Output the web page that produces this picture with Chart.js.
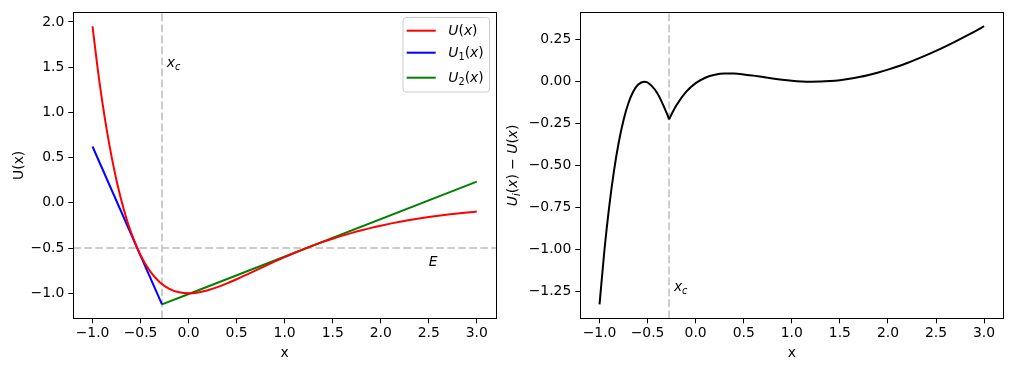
<!DOCTYPE html>
<html><head><meta charset="utf-8">
<script src="https://cdn.jsdelivr.net/npm/chart.js@4/dist/chart.umd.min.js"></script>
<style>
html,body{margin:0;padding:0;background:#fff;}
#wrap{position:relative;width:1012px;height:371px;background:#fff;}
canvas{position:absolute;top:0;}
#c1{left:0;} #c2{left:506px;}
</style></head><body>
<div id="wrap"><canvas id="c1" width="506" height="371"></canvas><canvas id="c2" width="506" height="371"></canvas></div>
<script>
// ---- data ----
const xU = [-1.0,-0.95,-0.9,-0.85,-0.8,-0.75,-0.7,-0.65,-0.6,-0.5,-0.4,-0.3,-0.2,-0.1,0.0,0.1,0.2,0.3,0.4,0.5,0.6,0.7,0.8,0.9,1.0,1.1,1.2,1.3,1.4,1.5,1.6,1.7,1.8,1.9,2.0,2.1,2.2,2.3,2.4,2.5,2.6,2.7,2.8,2.9,3.0];
const yU = [1.9525,1.5145,1.1304,0.7947,0.5020,0.2477,0.0277,-0.1618,-0.3241,-0.5792,-0.7581,-0.8776,-0.9510,-0.9889,-1.0,-0.9909,-0.9671,-0.9328,-0.8913,-0.8452,-0.7964,-0.7466,-0.6968,-0.6478,-0.6004,-0.5549,-0.5117,-0.4708,-0.4324,-0.3965,-0.3630,-0.3320,-0.3033,-0.2768,-0.2524,-0.2299,-0.2093,-0.1905,-0.1732,-0.1574,-0.1430,-0.1299,-0.1179,-0.1070,-0.0971];
const xU1 = [-1.0, -0.2766];
const yU1 = [0.6231, -1.1232];
const xU2 = [-0.2766, 3.0];
const yU2 = [-1.1232, 0.2340];
const xDiffA = [-1.0,-0.95,-0.9,-0.85,-0.8,-0.75,-0.7,-0.65,-0.6,-0.5348,-0.5,-0.4,-0.3,-0.2766];
const yDiffA = [-1.3294,-1.0121,-0.7488,-0.5337,-0.3617,-0.2282,-0.1289,-0.0601,-0.0185,0.0,-0.0049,-0.0673,-0.1893,-0.2248];
const xDiffB = [-0.2766,-0.25,-0.2,-0.1,0.0,0.1,0.2,0.3,0.4,0.5,0.6,0.7,0.8,0.9,1.0,1.1,1.2,1.3,1.4,1.5,1.6,1.7,1.8,1.9,2.0,2.1,2.2,2.3,2.4,2.5,2.6,2.7,2.8,2.9,3.0];
const yDiffB = [-0.2248,-0.1929,-0.1405,-0.0611,-0.0086,0.0237,0.0414,0.0485,0.0484,0.0437,0.0363,0.0279,0.0195,0.0120,0.0060,0.0019,0.0001,0.0006,0.0037,0.0092,0.0171,0.0275,0.0402,0.0551,0.0722,0.0911,0.1120,0.1345,0.1587,0.1843,0.2114,0.2397,0.2691,0.2996,0.3311];
const xC = -0.2766;
const E = -0.5;
const xTicks = [-1.0,-0.5,0.0,0.5,1.0,1.5,2.0,2.5,3.0];
const yTicksLeft = [-1.0,-0.5,0.0,0.5,1.0,1.5,2.0];
const yTicksRight = [-1.25,-1.0,-0.75,-0.5,-0.25,0.0,0.25];
const legendLabels = [["U","(x)",""],["U","(x)","1"],["U","(x)","2"]];

// ---- helpers ----
const FAM = "'DejaVu Sans'";
const FS = 13.9;
const pts = (xs, ys) => xs.map((x, i) => ({x: x, y: ys[i]}));
const fmt = (v, d) => v.toFixed(d).replace('-', '\u2212');

// parts: [text, style] style: 'i' italic, 'r' roman, 'si' sub italic, 'sr' sub roman
function mathWidth(ctx, parts, size) {
  let w = 0;
  for (const [t, s] of parts) {
    const sub = s[0] === 's';
    const it = s[s.length - 1] === 'i';
    ctx.font = (it ? 'italic ' : '') + (sub ? size * 0.7 : size) + 'px ' + FAM;
    w += ctx.measureText(t).width;
  }
  return w;
}
function drawMath(ctx, parts, x, y, size, align) {
  ctx.save();
  ctx.textBaseline = 'alphabetic';
  ctx.textAlign = 'left';
  let cx = x;
  if (align === 'center') cx = x - mathWidth(ctx, parts, size) / 2;
  for (const [t, s] of parts) {
    const sub = s[0] === 's';
    const it = s[s.length - 1] === 'i';
    ctx.font = (it ? 'italic ' : '') + (sub ? size * 0.7 : size) + 'px ' + FAM;
    ctx.fillText(t, cx, y + (sub ? size * 0.22 : 0));
    cx += ctx.measureText(t).width;
  }
  ctx.restore();
}

function makeOverlay(cfg) {
  return {
    id: 'overlay',
    beforeDatasetsDraw(chart) {
      const ctx = chart.ctx, a = chart.chartArea;
      const xs = chart.scales.x, ys = chart.scales.y;
      ctx.save();
      ctx.strokeStyle = '#cccccc';
      ctx.lineWidth = 2;
      ctx.setLineDash([7.7, 3.3]);
      const px = xs.getPixelForValue(xC);
      ctx.beginPath(); ctx.moveTo(px, a.bottom); ctx.lineTo(px, a.top); ctx.stroke();
      if (cfg.hline !== undefined) {
        const py = ys.getPixelForValue(cfg.hline);
        ctx.beginPath(); ctx.moveTo(a.left, py); ctx.lineTo(a.right, py); ctx.stroke();
      }
      ctx.restore();
      ctx.fillStyle = '#000';
      for (const tx of cfg.texts) {
        drawMath(ctx, tx.parts, xs.getPixelForValue(tx.x), ys.getPixelForValue(tx.y), FS, 'left');
      }
    },
    afterDraw(chart) {
      const ctx = chart.ctx, a = chart.chartArea;
      ctx.save();
      ctx.strokeStyle = '#000';
      ctx.lineWidth = 1;
      ctx.setLineDash([]);
      ctx.strokeRect(Math.round(a.left) + 0.5, Math.round(a.top) + 0.5, Math.round(a.right) - Math.round(a.left), Math.round(a.bottom) - Math.round(a.top));
      ctx.restore();
      // axis labels
      ctx.save();
      ctx.fillStyle = '#000';
      ctx.font = FS + 'px ' + FAM;
      ctx.textAlign = 'center';
      ctx.textBaseline = 'alphabetic';
      ctx.fillText('x', (a.left + a.right) / 2, 356.5);
      ctx.translate(cfg.ylabelX, (a.top + a.bottom) / 2);
      ctx.rotate(-Math.PI / 2);
      if (cfg.ylabelPlain) {
        ctx.fillText(cfg.ylabelPlain, 0, 0);
      } else {
        drawMath(ctx, cfg.ylabelMath, 0, 0, FS, 'center');
      }
      ctx.restore();
      // legend
      if (cfg.legend) {
        const L = cfg.legend;
        ctx.save();
        ctx.fillStyle = 'rgba(255,255,255,0.8)';
        ctx.strokeStyle = '#cccccc';
        ctx.lineWidth = 1;
        ctx.beginPath();
        if (ctx.roundRect) ctx.roundRect(L.x + 0.5, L.y + 0.5, L.w, L.h, 3); else ctx.rect(L.x + 0.5, L.y + 0.5, L.w, L.h);
        ctx.fill(); ctx.stroke();
        chart.data.datasets.forEach((ds, i) => {
          const ly = L.rows[i];
          ctx.strokeStyle = ds.borderColor;
          ctx.lineWidth = 2;
          ctx.beginPath(); ctx.moveTo(L.lineX0, ly); ctx.lineTo(L.lineX1, ly); ctx.stroke();
          const lab = legendLabels[i];
          const parts = [[lab[0], 'i']];
          if (lab[2]) parts.push([lab[2], 'sr']);
          parts.push(['(', 'r'], ['x', 'i'], [')', 'r']);
          ctx.fillStyle = '#000';
          drawMath(ctx, parts, L.textX, ly + L.base[i], FS, 'left');
        });
        ctx.restore();
      }
    }
  };
}

function scalesFor(ymin, ymax, yTicks, yDec, yWidth) {
  const grid = {drawOnChartArea: false, drawTicks: true, tickLength: 5, color: '#000', lineWidth: 1};
  return {
    x: {
      type: 'linear', min: -1.2, max: 3.2,
      grid: grid, border: {display: false},
      afterBuildTicks: s => { s.ticks = xTicks.map(v => ({value: v})); },
      afterFit: s => { s.height = 52.7; },
      ticks: {autoSkip: false, maxRotation: 0, padding: 2, color: '#000', font: {family: 'DejaVu Sans', size: FS}, callback: v => fmt(v, 1)}
    },
    y: {
      type: 'linear', min: ymin, max: ymax,
      grid: grid, border: {display: false},
      afterBuildTicks: s => { s.ticks = yTicks.map(v => ({value: v})); },
      afterFit: s => { s.width = yWidth; },
      ticks: {autoSkip: false, padding: 4, color: '#000', font: {family: 'DejaVu Sans', size: FS}, callback: v => fmt(v, yDec)}
    }
  };
}

const lineDs = (label, data, color) => ({
  label: label, data: data, borderColor: color, backgroundColor: color,
  borderWidth: 2, pointRadius: 0, fill: false, cubicInterpolationMode: 'monotone'
});

const common = {
  responsive: false, animation: false, devicePixelRatio: 1,
  plugins: {legend: {display: false}, tooltip: {enabled: false}},
  events: []
};

new Chart(document.getElementById('c1'), {
  type: 'line',
  data: {datasets: [
    lineDs('U(x)', pts(xU, yU), '#ff0000'),
    lineDs('U1(x)', pts(xU1, yU1), '#0000ff'),
    lineDs('U2(x)', pts(xU2, yU2), '#008000')
  ]},
  options: Object.assign({}, common, {
    layout: {padding: {top: 10.3, right: 10, bottom: 0, left: 0}},
    scales: scalesFor(-1.2769, 2.1063, yTicksLeft, 1, 73.3)
  }),
  plugins: [makeOverlay({
    hline: E,
    texts: [
      {x: xC + 0.05, y: 1.5, parts: [['x', 'i'], ['c', 'si']]},
      {x: 2.5, y: -0.7, parts: [['E', 'i']]}
    ],
    ylabelX: 22.7, ylabelPlain: 'U(x)',
    legend: {x: 402.5, y: 17, w: 86.5, h: 74.5, rows: [30.7, 52.7, 77.7], base: [3.8, 3.8, 3.8], lineX0: 406.7, lineX1: 435.7, textX: 448.3}
  })]
});

new Chart(document.getElementById('c2'), {
  type: 'line',
  data: {datasets: [
    lineDs('a', pts(xDiffA, yDiffA), '#000000'),
    lineDs('b', pts(xDiffB, yDiffB), '#000000')
  ]},
  options: Object.assign({}, common, {
    layout: {padding: {top: 10.3, right: 8.7, bottom: 0, left: 0}},
    scales: scalesFor(-1.4124, 0.4141, yTicksRight, 2, 74.3)
  }),
  plugins: [makeOverlay({
    texts: [
      {x: xC + 0.05, y: -1.25, parts: [['x', 'i'], ['c', 'si']]}
    ],
    ylabelX: 10.5,
    ylabelMath: [['U', 'i'], ['i', 'si'], ['(', 'r'], ['x', 'i'], [')', 'r'], [' \u2212 ', 'r'], ['U', 'i'], ['(', 'r'], ['x', 'i'], [')', 'r']]
  })]
});
</script>
</body></html>
